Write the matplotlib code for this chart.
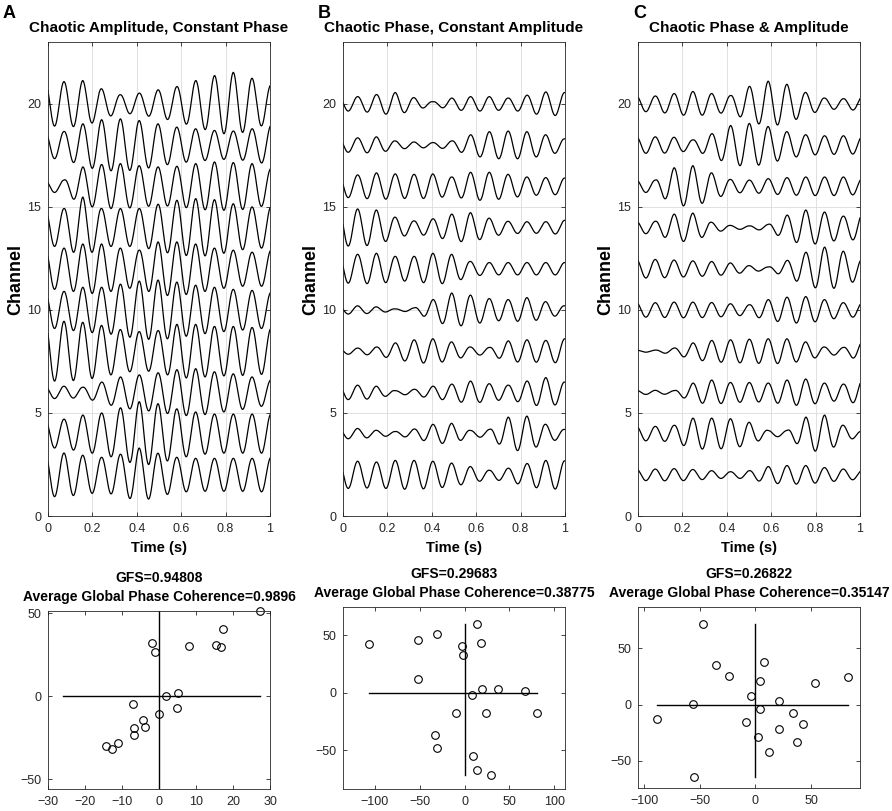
import numpy as np
import matplotlib
matplotlib.use("Agg")
from matplotlib import pyplot as plt

plt.rcParams['font.family'] = ['Liberation Sans', 'DejaVu Sans']

# ---- data ----
channels = [2, 4, 6, 8, 10, 12, 14, 16, 18, 20]
freq = 11.8                      # carrier frequency (Hz)
first_peak = [0.072, 0.066, 0.078]   # time of first carrier peak per panel

# per-cycle envelope amplitudes (12 cycles), channel 2 .. channel 20
amp_A = [
    [1.06, 0.95, 0.85, 1.0, 1.3, 1.05, 0.85, 0.8, 0.8, 0.8, 0.8, 0.85],
    [0.7, 0.9, 1.0, 1.25, 1.55, 1.45, 1.2, 1.05, 0.95, 0.95, 0.95, 0.95],
    [0.3, 0.25, 0.5, 0.75, 0.85, 0.95, 1.1, 1.15, 1.0, 0.9, 0.75, 0.6],
    [1.45, 1.4, 1.25, 1.05, 0.95, 1.0, 1.3, 1.3, 1.2, 1.2, 1.15, 1.1],
    [0.9, 1.1, 1.1, 1.25, 1.4, 1.45, 1.35, 1.2, 1.1, 1.0, 0.95, 0.85],
    [1.0, 1.2, 1.2, 1.0, 0.9, 1.3, 1.3, 1.2, 1.0, 0.9, 0.8, 0.9],
    [0.92, 1.48, 0.92, 0.92, 0.92, 1.13, 1.32, 1.4, 1.35, 1.15, 1.0, 1.0],
    [0.3, 0.94, 1.06, 1.1, 1.0, 0.94, 0.97, 1.1, 1.18, 1.15, 1.1, 0.85],
    [0.66, 1.03, 1.23, 1.27, 1.19, 1.03, 0.87, 0.79, 0.71, 0.68, 0.79, 0.95],
    [1.08, 1.13, 0.73, 0.44, 0.52, 0.68, 0.84, 1.13, 1.37, 1.53, 1.24, 0.9],
]
amp_B = [
    [0.66, 0.62, 0.7, 0.7, 0.66, 0.57, 0.4, 0.22, 0.32, 0.55, 0.7, 0.68],
    [0.25, 0.16, 0.1, 0.22, 0.45, 0.5, 0.15, 0.2, 0.8, 0.85, 0.45, 0.2],
    [0.35, 0.3, 0.08, 0.15, 0.3, 0.4, 0.55, 0.42, 0.35, 0.55, 0.72, 0.5],
    [0.15, 0.2, 0.4, 0.55, 0.6, 0.45, 0.2, 0.18, 0.5, 0.55, 0.52, 0.6],
    [0.2, 0.15, 0.05, 0.1, 0.5, 0.82, 0.72, 0.55, 0.5, 0.6, 0.4, 0.2],
    [0.7, 0.75, 0.6, 0.6, 0.75, 0.7, 0.35, 0.3, 0.3, 0.3, 0.3, 0.3],
    [0.9, 0.85, 0.5, 0.32, 0.42, 0.65, 0.72, 0.45, 0.3, 0.28, 0.28, 0.35],
    [0.55, 0.65, 0.6, 0.58, 0.6, 0.45, 0.68, 0.68, 0.58, 0.45, 0.42, 0.4],
    [0.35, 0.4, 0.2, 0.15, 0.12, 0.2, 0.5, 0.65, 0.68, 0.65, 0.5, 0.3],
    [0.35, 0.45, 0.55, 0.3, 0.1, 0.28, 0.35, 0.35, 0.28, 0.42, 0.58, 0.55],
]
amp_C = [
    [0.28, 0.3, 0.26, 0.2, 0.15, 0.2, 0.4, 0.45, 0.45, 0.35, 0.28, 0.2],
    [0.35, 0.4, 0.75, 0.75, 0.72, 0.55, 0.15, 0.15, 0.8, 0.9, 0.4, 0.1],
    [0.1, 0.08, 0.45, 0.6, 0.48, 0.48, 0.45, 0.6, 0.65, 0.45, 0.4, 0.6],
    [0.05, 0.15, 0.4, 0.52, 0.55, 0.58, 0.6, 0.6, 0.45, 0.2, 0.18, 0.48],
    [0.35, 0.38, 0.38, 0.36, 0.3, 0.25, 0.5, 0.62, 0.65, 0.5, 0.35, 0.35],
    [0.45, 0.42, 0.38, 0.35, 0.28, 0.15, 0.08, 0.4, 0.8, 1.05, 0.85, 0.45],
    [0.3, 0.65, 0.7, 0.25, 0.1, 0.08, 0.15, 0.6, 0.85, 0.75, 0.55, 0.65],
    [0.3, 0.9, 1.0, 0.65, 0.33, 0.3, 0.37, 0.42, 0.45, 0.45, 0.45, 0.38],
    [0.4, 0.38, 0.25, 0.55, 0.95, 1.05, 0.9, 0.65, 0.5, 0.45, 0.45, 0.42],
    [0.38, 0.5, 0.6, 0.5, 0.4, 0.85, 1.1, 0.95, 0.55, 0.28, 0.25, 0.35],
]

top_titles = ['Chaotic Amplitude, Constant Phase',
              'Chaotic Phase, Constant Amplitude',
              'Chaotic Phase & Amplitude']
letters = ['A', 'B', 'C']
letter_x = [3, 318, 633]         # pixels

gfs = ['0.94808', '0.29683', '0.26822']
gpc = ['0.9896', '0.38775', '0.35147']

sx_A = [27.4, 17.3, 15.5, 16.8, 8.2, -1.9, -1.0, 2.0, 5.0, 4.8, -0.1, -7.0,
        -4.3, -3.9, -6.8, -6.7, -11.2, -12.8, -14.3]
sy_A = [51.3, 40.2, 31.0, 29.4, 30.2, 31.8, 26.4, 0.2, 2.0, -7.0, -10.5, -5.0,
        -14.5, -18.9, -19.5, -23.5, -28.2, -31.8, -30.2]
sx_B = [-106.3, -52.2, -30.4, 14.4, -2.6, -1.9, 18.1, -52.2, 20.0, 37.4, 67.4,
        8.5, -9.3, 24.4, 80.7, -33.3, -30.7, 9.6, 14.1, 29.6]
sy_B = [42.1, 46.1, 51.0, 59.9, 40.3, 32.6, 43.5, 11.8, 3.5, 2.9, 1.4, -1.7,
        -17.3, -17.9, -17.3, -36.9, -47.6, -54.8, -66.9, -71.2]
sx_C = [-47.3, -35.9, -23.4, 7.5, 4.2, 53.3, 83.5, -3.6, 21.6, -56.0, 3.9,
        -88.6, -8.1, 33.5, 43.1, 21.0, 2.1, 37.7, 12.6, -55.1]
sy_C = [71.9, 35.2, 25.4, 37.6, 21.0, 19.5, 24.9, 8.0, 3.3, 0.6, -3.6, -12.7,
        -15.1, -7.4, -17.5, -22.2, -29.3, -33.4, -42.3, -64.5]

# extents of the cross lines and the axis limits
hline = [(-25.9, 27.4), (-106.3, 80.7), (-88.6, 83.5)]
vline = [(-56.0, 51.3), (-71.2, 59.9), (-64.5, 71.9)]
xlims = [(-30, 30), (-135.5, 112), (-105.7, 94)]
ylims = [(-56, 51.3), (-83.6, 74.4), (-74.3, 87)]
xticks_s = [[-30, -20, -10, 0, 10, 20, 30], [-100, -50, 0, 50, 100], [-100, -50, 0, 50]]

amps = [amp_A, amp_B, amp_C]
sxs = [sx_A, sx_B, sx_C]
sys_ = [sy_A, sy_B, sy_C]

axcol = '#262626'


def matlab_look(ax):
    for s in ax.spines.values():
        s.set_color(axcol)
        s.set_linewidth(0.6)
    ax.tick_params(direction='in', top=True, right=True, length=3, width=0.6,
                   colors=axcol, labelsize=9, pad=5)


W, H = 892, 811
fig = plt.figure(figsize=(W / 100, H / 100), dpi=100)
lefts = [0.0538, 0.3845, 0.7152]
bot_pos = [(0.0271, 0.2195), (0.0271, 0.2244), (0.0284, 0.2232)]

t = np.linspace(0, 1, 1001)
for i in range(3):
    ax = fig.add_axes([lefts[i], 0.3637, 0.2489, 0.5845])
    t0 = first_peak[i]
    peak_t = t0 + np.arange(12) / freq
    carrier = np.cos(2 * np.pi * freq * (t - t0))
    for ch, a in zip(channels, amps[i]):
        env = np.interp(t, peak_t, a)
        ax.plot(t, ch + env * carrier, color='k', linewidth=0.9)
    ax.set_xlim(0, 1)
    ax.set_ylim(0, 23)
    ax.set_xticks([0, 0.2, 0.4, 0.6, 0.8, 1])
    ax.set_xticklabels(['0', '0.2', '0.4', '0.6', '0.8', '1'])
    ax.set_yticks([0, 5, 10, 15, 20])
    ax.grid(True, color='#dcdcdc', linewidth=0.6)
    ax.set_axisbelow(True)
    matlab_look(ax)
    ax.set_title(top_titles[i], fontsize=11, fontweight='bold', pad=7)
    ax.set_xlabel('Time (s)', fontsize=10.5, fontweight='bold', labelpad=4)
    ax.set_ylabel('Channel', fontsize=13, fontweight='bold', labelpad=2)
    fig.text(letter_x[i] / W, 0.978, letters[i], fontsize=13, fontweight='bold',
             ha='left', va='baseline')

    b, h = bot_pos[i]
    ax2 = fig.add_axes([lefts[i], b, 0.2489, h])
    ax2.plot(hline[i], [0, 0], color='k', linewidth=1.0)
    ax2.plot([0, 0], vline[i], color='k', linewidth=1.0)
    ax2.plot(sxs[i], sys_[i], linestyle='none', marker='o', markersize=5.5,
             markerfacecolor='none', markeredgecolor='k', markeredgewidth=0.8,
             clip_on=False)
    ax2.set_xlim(*xlims[i])
    ax2.set_ylim(*ylims[i])
    ax2.set_xticks(xticks_s[i])
    ax2.set_yticks([-50, 0, 50])
    matlab_look(ax2)
    ax2.set_title('GFS=' + gfs[i] + '\nAverage Global Phase Coherence=' + gpc[i],
                  fontsize=10, fontweight='bold', pad=7, linespacing=1.5)

fig.savefig('out.png', dpi=100)
